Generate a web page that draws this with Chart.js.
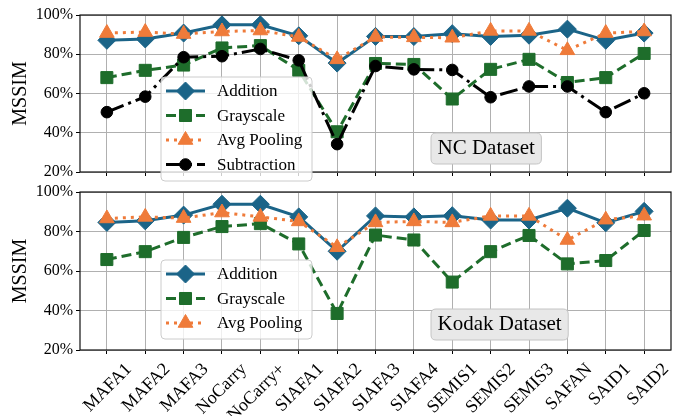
<!DOCTYPE html>
<html>
<head>
<meta charset="utf-8">
<script src="https://cdn.jsdelivr.net/npm/chart.js@4.4.1/dist/chart.umd.min.js"></script>
<style>
  html, body { margin: 0; padding: 0; background: #ffffff; }
  #wrap { position: relative; width: 681px; height: 416px; overflow: hidden; }
  .panel { position: absolute; left: 0; width: 681px; }
  #top { top: 0; height: 182px; }
  #bottom { top: 182px; height: 234px; }
</style>
</head>
<body>
<div id="wrap">
  <div class="panel" id="top"><canvas id="ncChart"></canvas></div>
  <div class="panel" id="bottom"><canvas id="kodakChart"></canvas></div>
</div>
<script>
// Approximate multiplier designs on the x axis
const methods = ['MAFA1', 'MAFA2', 'MAFA3', 'NoCarry', 'NoCarry+', 'SIAFA1', 'SIAFA2',
  'SIAFA3', 'SIAFA4', 'SEMIS1', 'SEMIS2', 'SEMIS3', 'SAFAN', 'SAID1', 'SAID2'];
const yTicks = [20, 40, 60, 80, 100];

// MSSIM (%) on the NC dataset
const ncAddition    = [87.1, 87.8, 90.8, 95.0, 95.0, 89.4, 75.5, 89.1, 89.0, 90.5, 89.1, 89.7, 92.8, 87.1, 90.8];
const ncGrayscale   = [68.1, 71.8, 74.5, 83.2, 84.4, 71.8, 40.5, 75.3, 74.8, 57.2, 72.3, 77.4, 65.6, 68.1, 80.4];
const ncAvgPooling  = [90.8, 91.3, 90.3, 91.6, 92.1, 88.8, 77.4, 88.8, 88.6, 88.4, 91.9, 91.9, 82.0, 90.8, 91.6];
const ncSubtraction = [50.5, 58.4, 78.5, 79.0, 82.7, 76.9, 34.2, 74.0, 72.3, 72.0, 58.1, 63.6, 63.6, 50.5, 60.1];

// MSSIM (%) on the Kodak dataset
const kodakAddition   = [84.6, 85.4, 88.3, 93.8, 93.8, 87.4, 70.0, 87.9, 87.4, 88.0, 85.8, 85.8, 91.8, 84.4, 90.2];
const kodakGrayscale  = [65.8, 69.8, 77.0, 82.5, 84.0, 73.7, 38.5, 78.2, 75.7, 54.4, 69.8, 78.0, 63.6, 65.3, 80.5];
const kodakAvgPooling = [86.6, 87.4, 86.8, 89.6, 87.4, 85.1, 72.0, 84.6, 85.1, 84.6, 87.9, 87.9, 75.7, 86.0, 88.0];

const FONT = "'Liberation Serif', 'Times New Roman', serif";

const STYLES = {
  'Addition':    { color: '#1b6488', dash: [],            point: 'rectRot',  r: 9 },
  'Grayscale':   { color: '#1e6d2b', dash: [10, 5],       point: 'rect',     r: 8.5 },
  'Avg Pooling': { color: '#ef7b3a', dash: [3, 5],        point: 'triangle', r: 8.5 },
  'Subtraction': { color: '#000000', dash: [18, 5, 3, 5], point: 'circle',   r: 5.8 }
};
// draw order: later entries sit on top
const DRAW_ORDER = ['Addition', 'Grayscale', 'Avg Pooling', 'Subtraction'];

function makeDataset(label, values) {
  const s = STYLES[label];
  return {
    label: label,
    data: values.map((v, i) => ({ x: i, y: v })),
    borderColor: s.color,
    backgroundColor: s.color,
    borderWidth: 3,
    borderDash: s.dash,
    borderCapStyle: 'butt',
    pointStyle: s.point,
    pointRadius: s.r,
    pointHoverRadius: s.r,
    pointBackgroundColor: s.color,
    pointBorderColor: s.color,
    pointBorderWidth: 1,
    tension: 0,
    order: DRAW_ORDER.length - DRAW_ORDER.indexOf(label)
  };
}

function roundRect(ctx, x, y, w, h, r) {
  ctx.beginPath();
  ctx.moveTo(x + r, y);
  ctx.lineTo(x + w - r, y);
  ctx.quadraticCurveTo(x + w, y, x + w, y + r);
  ctx.lineTo(x + w, y + h - r);
  ctx.quadraticCurveTo(x + w, y + h, x + w - r, y + h);
  ctx.lineTo(x + r, y + h);
  ctx.quadraticCurveTo(x, y + h, x, y + h - r);
  ctx.lineTo(x, y + r);
  ctx.quadraticCurveTo(x, y, x + r, y);
  ctx.closePath();
}

// Frame around the plotting area (drawn over the lines, like axes spines)
const framePlugin = {
  id: 'frame',
  afterDatasetsDraw(chart) {
    const a = chart.chartArea, ctx = chart.ctx;
    ctx.save();
    ctx.strokeStyle = '#111111';
    ctx.lineWidth = 1.2;
    ctx.strokeRect(a.left, a.top, a.right - a.left, a.bottom - a.top);
    ctx.restore();
  }
};

// Axis title, legend box and dataset tag
const annotatePlugin = {
  id: 'annotate',
  afterDraw(chart, args, opts) {
    const ctx = chart.ctx, a = chart.chartArea;
    ctx.save();

    // y axis title
    ctx.save();
    ctx.translate(20, (a.top + a.bottom) / 2);
    ctx.rotate(-Math.PI / 2);
    ctx.fillStyle = '#000';
    ctx.font = '20px ' + FONT;
    ctx.textAlign = 'center';
    ctx.textBaseline = 'middle';
    ctx.fillText('MSSIM', 0, 1);
    ctx.restore();

    // legend
    const L = opts.legend;
    roundRect(ctx, L.x, L.y, L.w, L.h, 4);
    ctx.fillStyle = 'rgba(255,255,255,0.8)';
    ctx.fill();
    ctx.strokeStyle = '#cccccc';
    ctx.lineWidth = 1;
    ctx.stroke();
    chart.data.datasets.slice().sort((p, q) => DRAW_ORDER.indexOf(p.label) - DRAW_ORDER.indexOf(q.label))
      .forEach((ds, i) => {
        const s = STYLES[ds.label];
        const y = L.y + 14 + i * 24.5;
        ctx.save();
        ctx.strokeStyle = s.color;
        ctx.lineWidth = 3;
        ctx.lineCap = 'butt';
        ctx.setLineDash(s.dash);
        ctx.beginPath();
        ctx.moveTo(L.x + 5, y);
        ctx.lineTo(L.x + 44, y);
        ctx.stroke();
        ctx.setLineDash([]);
        ctx.fillStyle = s.color;
        ctx.strokeStyle = s.color;
        ctx.lineWidth = 1;
        Chart.helpers.drawPoint(ctx, { pointStyle: s.point, radius: s.r, rotation: 0, borderWidth: 1 }, L.x + 24.5, y);
        ctx.restore();
        ctx.fillStyle = '#000';
        ctx.font = '17px ' + FONT;
        ctx.textAlign = 'left';
        ctx.textBaseline = 'middle';
        ctx.fillText(ds.label, L.x + 56, y + 1);
      });

    // dataset tag
    const T = opts.tag;
    ctx.font = '21px ' + FONT;
    const tw = ctx.measureText(T.text).width;
    roundRect(ctx, T.x, T.y, tw + 13, T.h, 5);
    ctx.fillStyle = '#e8e8e8';
    ctx.fill();
    ctx.strokeStyle = '#c4c4c4';
    ctx.lineWidth = 1;
    ctx.stroke();
    ctx.fillStyle = '#000';
    ctx.textAlign = 'left';
    ctx.textBaseline = 'alphabetic';
    ctx.fillText(T.text, T.x + 6.5, T.y + 20.6);

    ctx.restore();
  }
};

function makePanel(canvasId, datasets, cfg) {
  return new Chart(document.getElementById(canvasId), {
    type: 'line',
    data: { datasets: datasets },
    options: {
      responsive: true,
      maintainAspectRatio: false,
      animation: false,
      events: [],
      layout: { padding: { top: cfg.padTop, right: 7, left: 0, bottom: 0 } },
      plugins: {
        legend: { display: false },
        tooltip: { enabled: false },
        annotate: { legend: cfg.legend, tag: cfg.tag }
      },
      scales: {
        x: {
          type: 'linear',
          min: -0.7,
          max: 14.7,
          bounds: 'data',
          afterBuildTicks: s => { s.ticks = methods.map((_, i) => ({ value: i })); },
          afterFit: s => { s.height = cfg.xHeight; s.paddingLeft = 0; s.paddingRight = 0; },
          ticks: {
            display: cfg.showLabels,
            autoSkip: false,
            minRotation: 45,
            maxRotation: 45,
            padding: 5,
            labelOffset: 22,
            color: '#000',
            font: { family: FONT, size: 18 },
            callback: v => methods[v]
          },
          grid: { color: '#b0b0b0', lineWidth: 1, tickColor: '#000', tickLength: 4, tickWidth: 1 },
          border: { display: false }
        },
        y: {
          min: 20,
          max: 100,
          afterBuildTicks: s => { s.ticks = yTicks.map(v => ({ value: v })); },
          afterFit: s => { s.width = 80; s.paddingTop = 0; s.paddingBottom = 0; },
          ticks: {
            padding: 3,
            color: '#000',
            font: { family: FONT, size: 16 },
            callback: v => v + '%'
          },
          grid: { color: '#b0b0b0', lineWidth: 1, tickColor: '#000', tickLength: 4, tickWidth: 1 },
          border: { display: false }
        }
      }
    },
    plugins: [framePlugin, annotatePlugin]
  });
}

makePanel('ncChart', [
  makeDataset('Addition', ncAddition),
  makeDataset('Grayscale', ncGrayscale),
  makeDataset('Avg Pooling', ncAvgPooling),
  makeDataset('Subtraction', ncSubtraction)
], {
  padTop: 15, xHeight: 8, showLabels: false,
  legend: { x: 161, y: 77, w: 151, h: 104 },
  tag: { text: 'NC Dataset', x: 431, y: 133, h: 31 }
});

makePanel('kodakChart', [
  makeDataset('Addition', kodakAddition),
  makeDataset('Grayscale', kodakGrayscale),
  makeDataset('Avg Pooling', kodakAvgPooling)
], {
  padTop: 9, xHeight: 66, showLabels: true,
  legend: { x: 161, y: 78, w: 151, h: 79 },
  tag: { text: 'Kodak Dataset', x: 431, y: 127, h: 31 }
});
</script>
</body>
</html>
